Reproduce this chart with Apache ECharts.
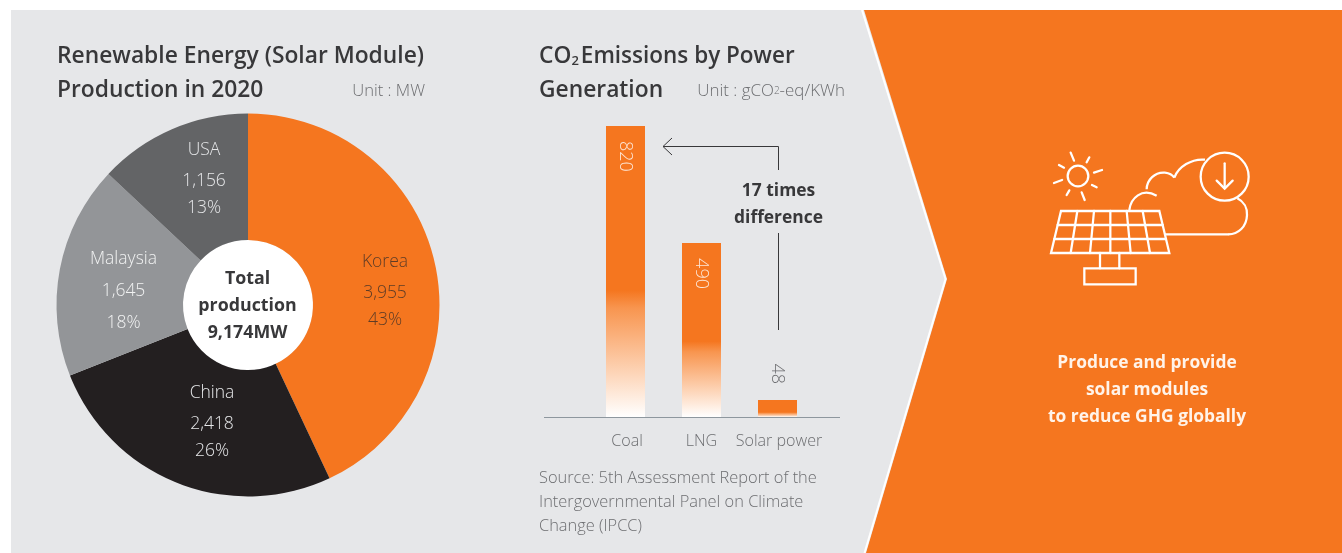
<!DOCTYPE html>
<html>
<head>
<meta charset="utf-8">
<style>html,body{margin:0;padding:0;background:#fff}#c{width:1342px;height:553px}</style>
<script src="https://cdn.jsdelivr.net/npm/echarts@6/dist/echarts.min.js"></script>
</head>
<body>
<div id="c"></div>
<script>
const pieNames = ['Korea', 'China', 'Malaysia', 'USA'];
const pieProduction = [3955, 2418, 1645, 1156];
const pieShares = [43, 26, 18, 13];
const barCategories = ['Coal', 'LNG', 'Solar power'];
const barValues = [820, 490, 48];

const ORANGE = '#F5761F', GRAY_BG = '#E6E7E9', DARK = '#38383A', MID = '#6D6E71';
const FONT = '"Open Sans", sans-serif';
const pieColors = [ORANGE, '#231F20', '#939598', '#636466'];
const pieLabelColors = ['#5E3C26', '#E6E7E9', '#F1F2F2', '#E6E7E9'];
const pieLabelAnchors = [[385, 289], [212, 420], [123.5, 291], [204, 177]];
const pieLabelStyle = ['t', 't', 'e', 't'];
const fadeStart = [0.565, 0.565, 0.72];

const txt = (text, x, y, size, color, weight, align) => ({
  type: 'text', x, y, z: 20,
  style: { text, fill: color, font: `${weight} ${size}px ${FONT}`, align: align || 'left', verticalAlign: 'middle' }
});
const line = (pts, color, width) => ({
  type: 'polyline', z: 20, shape: { points: pts },
  style: { stroke: color, lineWidth: width, fill: null }
});

const IW = 6.8;
const ic = (pts) => ({ type: 'polyline', shape: { points: pts }, style: { stroke: '#fff', lineWidth: IW, fill: null, lineCap: 'round', lineJoin: 'miter' } });
const bz = (x1, y1, cpx1, cpy1, cpx2, cpy2, x2, y2) => ({ type: 'bezierCurve', shape: { x1, y1, cpx1, cpy1, cpx2, cpy2, x2, y2 }, style: { stroke: '#fff', lineWidth: IW, fill: null } });
const rays = [[212,68,222,92],[268,82,260,97],[306,120,282,128],[290,172,276,165],[254,210,245,187],[200,195,208,181],[162,159,186,150],[177,105,192,113]];
const panelV = [[232,212],[282,270],[331,331],[380,392],[428,450]];
const icon = {
  type: 'group', x: 1000, y: 130, scaleX: 1/3, scaleY: 1/3, z: 20,
  children: [
    { type: 'circle', shape: { cx: 234, cy: 138, r: 31 }, style: { stroke: '#fff', lineWidth: IW, fill: null } },
    ...rays.map(r => ic([[r[0], r[1]], [r[2], r[3]]])),
    { type: 'polygon', shape: { points: [[183,243],[478,243],[508,369],[153,369]] }, style: { stroke: '#fff', lineWidth: IW, fill: null } },
    ic([[173,285],[488,285]]), ic([[163,327],[498,327]]),
    ...panelV.map(v => ic([[v[0],243],[v[1],369]])),
    ic([[300,369],[300,415]]), ic([[358,369],[358,415]]),
    { type: 'rect', shape: { x: 253, y: 415, width: 154, height: 48 }, style: { stroke: '#fff', lineWidth: IW, fill: null } },
    bz(388,240, 392,205, 425,172, 470,197),
    bz(440,178, 440,150, 465,125, 495,128),
    bz(495,128, 510,130, 518,136, 523,143),
    bz(523,143, 535,110, 575,85, 615,89),
    bz(712,205, 732,215, 742,235, 741,255),
    bz(741,255, 740,290, 715,313, 685,313),
    ic([[685,313],[497,313]]),
    { type: 'circle', shape: { cx: 674, cy: 140, r: 72 }, style: { stroke: '#fff', lineWidth: IW, fill: null } },
    ic([[674,100],[674,175]]), ic([[650,152],[674,176],[698,152]])
  ]
};

const lbl = (lineHeight) => ({ lineHeight, fontFamily: FONT, fontWeight: 300, fontSize: 17.5 });
const chart = echarts.init(document.getElementById('c'), null, { renderer: 'canvas' });
chart.setOption({
  animation: false,
  backgroundColor: '#fff',
  grid: { left: 587.5, top: 126, width: 228, height: 291 },
  xAxis: {
    type: 'category', data: barCategories,
    axisLine: { lineStyle: { color: '#8E979E', width: 1 } }, axisTick: { show: false },
    axisLabel: {
      color: MID, fontFamily: FONT, fontWeight: 300, fontSize: 16.1, margin: 16, interval: 0,
      formatter: v => v === 'LNG' ? v : `{s|${v}}`,
      rich: { s: { padding: [0, 0, 0, 3], color: MID, fontFamily: FONT, fontWeight: 300, fontSize: 16.1 } }
    }
  },
  yAxis: { type: 'value', min: 0, max: 820, show: false },
  series: [
    {
      type: 'pie', z: 5, center: [248, 305], radius: [65, 191.5], startAngle: 90, clockwise: true,
      silent: true, labelLine: { show: false },
      label: {
        show: true, position: 'inside',
        formatter: p => {
          const s = pieLabelStyle[p.dataIndex];
          return `{${s}1|${p.name}}\n{${s}2|${pieProduction[p.dataIndex].toLocaleString('en-US')}}\n{${s}3|${p.value}%}`;
        },
        rich: { t1: lbl(35), t2: lbl(27), t3: lbl(27), e1: lbl(32), e2: lbl(32), e3: lbl(32) }
      },
      labelLayout: p => ({ x: pieLabelAnchors[p.dataIndex][0], y: pieLabelAnchors[p.dataIndex][1], align: 'center', verticalAlign: 'middle' }),
      data: pieNames.map((name, i) => ({
        name, value: pieShares[i], itemStyle: { color: pieColors[i] },
        label: { color: pieLabelColors[i] }
      }))
    },
    {
      type: 'bar', z: 5, barWidth: 39, silent: true,
      data: barValues.map((value, i) => ({
        value,
        itemStyle: {
          color: new echarts.graphic.LinearGradient(0, 0, 0, 1, [
            { offset: 0, color: ORANGE },
            { offset: fadeStart[i], color: ORANGE },
            { offset: fadeStart[i] + 0.06, color: '#F8954F' },
            { offset: 0.85 + (fadeStart[i] - 0.565) * 0.5, color: '#FDD5B8' },
            { offset: 1, color: '#FFFFFF' }
          ])
        },
        label: i < 2
          ? { show: true, position: 'insideTop', distance: 15, rotate: -90, align: 'left', verticalAlign: 'middle', color: '#FDE6D6', fontFamily: FONT, fontWeight: 300, fontSize: 18 }
          : { show: true, position: 'top', distance: 16, rotate: -90, align: 'right', verticalAlign: 'middle', color: MID, fontFamily: FONT, fontWeight: 300, fontSize: 18 }
      }))
    }
  ],
  graphic: { elements: [
    { type: 'rect', z: -10, shape: { x: 11, y: 10, width: 1331, height: 543 }, style: { fill: GRAY_BG } },
    { type: 'polygon', z: -9, shape: { points: [[864,10],[1342,10],[1342,553],[866,553],[947,279]] }, style: { fill: ORANGE } },
    { type: 'polyline', z: -8, shape: { points: [[862,10],[945.5,279],[864.5,553]] }, style: { stroke: '#fff', lineWidth: 2, fill: null } },
    { type: 'circle', z: -7, shape: { cx: 248, cy: 305, r: 65 }, style: { fill: '#fff' } },
    line([[544,417.5],[840,417.5]], '#8E979E', 1),
    txt('Renewable Energy (Solar Module)', 57, 56.5, 22.8, DARK, 600),
    txt('Production in 2020', 57, 90.5, 22.8, DARK, 600),
    txt('Unit : MW', 425, 91, 16.6, MID, 300, 'right'),
    {
      type: 'text', x: 539, y: 56.5, z: 20,
      style: {
        text: '{a|CO}{b|2}{c|Emissions by Power}', verticalAlign: 'middle', fill: DARK,
        rich: {
          a: { font: `600 22.8px ${FONT}`, fill: DARK },
          b: { font: `600 13px ${FONT}`, fill: DARK, verticalAlign: 'bottom', padding: [8, 2, 0, 0] },
          c: { font: `600 22.5px ${FONT}`, fill: DARK }
        }
      }
    },
    txt('Generation', 539, 90.5, 22.8, DARK, 600),
    {
      type: 'text', x: 845, y: 91, z: 20,
      style: {
        text: '{a|Unit : gCO}{b|2}{a|-eq/KWh}', align: 'right', verticalAlign: 'middle', fill: MID,
        rich: { a: { font: `300 16.9px ${FONT}`, fill: MID }, b: { font: `300 10px ${FONT}`, fill: MID } }
      }
    },
    txt('Total', 247.5, 279, 17.8, DARK, 700, 'center'),
    txt('production', 247.5, 306, 17.8, DARK, 700, 'center'),
    txt('9,174MW', 247.5, 333, 17.8, DARK, 700, 'center'),
    txt('17 times', 778.5, 191.5, 17.4, DARK, 700, 'center'),
    txt('difference', 778.5, 218.5, 17.4, DARK, 700, 'center'),
    line([[778.5,170],[778.5,146.5],[663,146.5]], DARK, 1),
    line([[672,138],[663,146.5],[672,155]], DARK, 1),
    line([[778.5,233],[778.5,330]], DARK, 1),
    txt('Source: 5th Assessment Report of the', 539, 478, 16.4, MID, 300),
    txt('Intergovernmental Panel on Climate', 539, 502, 16.4, MID, 300),
    txt('Change (IPCC)', 539, 526, 16.4, MID, 300),
    icon,
    txt('Produce and provide', 1147, 363, 17.4, '#FFF3E9', 700, 'center'),
    txt('solar modules', 1147, 390, 17.4, '#FFF3E9', 700, 'center'),
    txt('to reduce GHG globally', 1147, 417, 17.4, '#FFF3E9', 700, 'center')
  ] }
});
</script>
</body>
</html>
